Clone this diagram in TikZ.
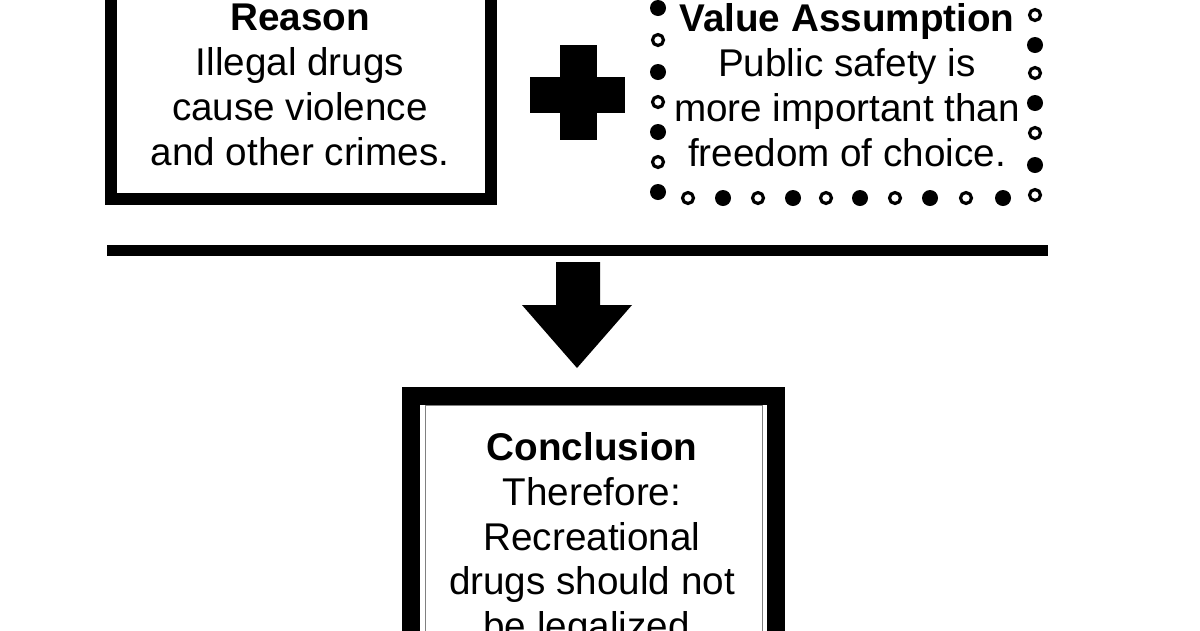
\documentclass[tikz,border=0pt]{standalone}
\usepackage{fontspec}
\setmainfont{Liberation Sans}
\usetikzlibrary{calc}

\tikzset{
	boxtext/.style={align=center, inner sep=0pt, font=\fontsize{22}{25.6}\selectfont},
	fulldot/.style={fill=black},
	opendot/.style={draw=black, line width=1.8pt, fill=white},
}

\begin{document}
\begin{tikzpicture}[x=0.02cm, y=-0.02cm]
	\useasboundingbox (0,0) rectangle (1200,630);
	\clip (0,0) rectangle (1200,630);
	
	% reason box
	\draw[line width=7pt] (111,-30) rectangle (491,199);
	\node[boxtext] (reason) at (300,85) {\textbf{Reason}\\Illegal drugs\\cause violence\\and other crimes.};
	
	% plus sign
	\fill (560,45) rectangle (597,140);
	\fill (530,77) rectangle (625,113);
	
	% value assumption box
	\node[boxtext] (value) at (847,85) {\textbf{Value Assumption}\\Public safety is\\more important than\\freedom of choice.};
	\foreach \y [count=\i] in {8,40,72,102,132,162,192} {
		\ifodd\i \fill[fulldot] (658,\y) circle (0.16cm); \else \draw[opendot] (658,\y) circle (0.11cm); \fi
	}
	\foreach \y [count=\i] in {15,45,73,103,133,165,195} {
		\ifodd\i \draw[opendot] (1035,\y) circle (0.11cm); \else \fill[fulldot] (1035,\y) circle (0.16cm); \fi
	}
	\foreach \x [count=\i] in {688,723,758,793,826,860,895,930,966,1003} {
		\ifodd\i \draw[opendot] (\x,198) circle (0.11cm); \else \fill[fulldot] (\x,198) circle (0.16cm); \fi
	}
	
	% rule and arrow
	\fill (107,245) rectangle (1048,256);
	\coordinate (tip) at (577,368);
	\fill (556,262) -- (600,262) -- (600,305) -- (632,305) -- (tip) -- (522,305) -- (556,305) -- cycle;
	
	% conclusion box
	\draw[line width=10pt] (411,396) rectangle (776,700);
	\draw[line width=0.5pt, gray] (425,405) rectangle (762,700);
	\node[boxtext] (conclusion) at (592,540) {\textbf{Conclusion}\\Therefore:\\Recreational\\drugs should not\\be legalized.};
\end{tikzpicture}
\end{document}
